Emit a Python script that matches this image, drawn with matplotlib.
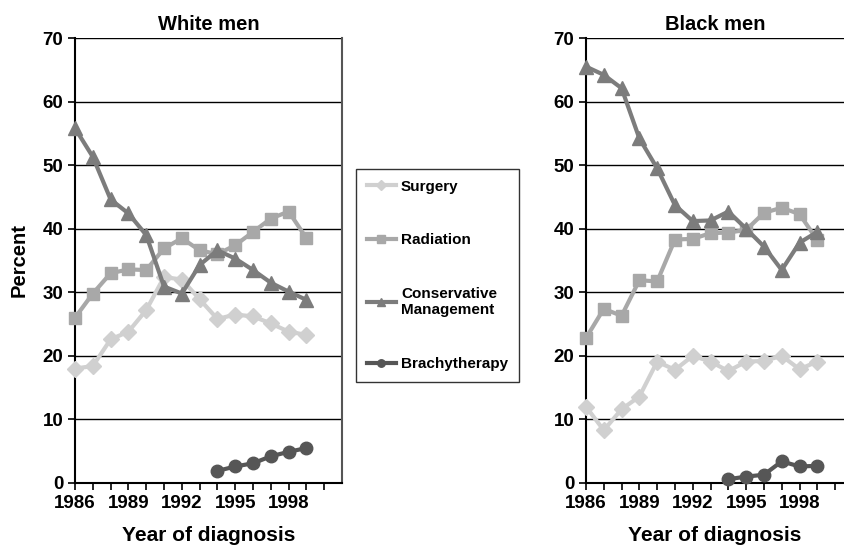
import numpy as np
import matplotlib
matplotlib.use("Agg")
import matplotlib.pyplot as plt
from matplotlib.ticker import MultipleLocator

plt.rcParams['font.family'] = ['Liberation Sans', 'DejaVu Sans']
plt.rcParams['font.weight'] = 'bold'

years = np.arange(1986, 2000)
brachy_years = np.arange(1994, 2000)

# White men
white_surgery = [18.0, 18.4, 22.6, 23.8, 27.2, 32.4, 32.0, 28.9, 25.8, 26.5, 26.2, 25.1, 23.8, 23.3]
white_radiation = [26.0, 29.8, 33.0, 33.6, 33.5, 36.9, 38.5, 36.6, 36.0, 37.4, 39.5, 41.6, 42.7, 38.5]
white_conservative = [55.8, 51.3, 44.6, 42.4, 39.0, 30.9, 29.8, 34.3, 36.6, 35.3, 33.5, 31.5, 30.1, 28.8]
white_brachy = [1.9, 2.6, 3.1, 4.2, 4.9, 5.5]

# Black men
black_surgery = [12.0, 8.3, 11.6, 13.6, 19.1, 17.8, 20.0, 19.1, 17.6, 19.1, 19.2, 20.0, 17.9, 19.1]
black_radiation = [22.8, 27.4, 26.3, 31.9, 31.7, 38.3, 38.4, 39.3, 39.4, 39.8, 42.5, 43.3, 42.3, 38.2]
black_conservative = [65.5, 64.2, 62.1, 54.2, 49.5, 43.7, 41.2, 41.3, 42.7, 40.0, 37.2, 33.5, 37.8, 39.5]
black_brachy = [0.6, 1.0, 1.3, 3.4, 2.6, 2.7]

labels = ["Surgery", "Radiation", "Conservative\nManagement", "Brachytherapy"]
colors = ["#d0d0d0", "#a8a8a8", "#7c7c7c", "#565656"]
markers = ["D", "s", "^", "o"]
msizes = [8, 9, 10, 9]

fig = plt.figure(figsize=(8.44, 5.46), dpi=100)
ax1 = fig.add_axes([0.0889, 0.1154, 0.3164, 0.815])
ax2 = fig.add_axes([0.6943, 0.1154, 0.3057, 0.815])


def draw(ax, series, title, xmax):
    for i, vals in enumerate(series):
        xs = brachy_years if i == 3 else years
        ax.plot(xs, vals, color=colors[i], marker=markers[i], markersize=msizes[i],
                lw=3, label=labels[i], clip_on=False, zorder=3)
    ax.set_xlim(1986, xmax)
    ax.set_ylim(0, 70)
    ax.yaxis.set_major_locator(MultipleLocator(10))
    ax.set_xticks(np.arange(1986, 2001))
    ax.set_xticklabels([str(y) if (y - 1986) % 3 == 0 and y < 2000 else "" for y in range(1986, 2001)])
    ax.grid(axis='y', color='black', lw=1.0)
    ax.set_axisbelow(True)
    ax.tick_params(axis='both', labelsize=13.5, width=1.2, length=5, direction='out', colors='black')
    for lab in ax.get_xticklabels() + ax.get_yticklabels():
        lab.set_fontweight('bold')
    ax.spines['top'].set_visible(False)
    ax.spines['left'].set_linewidth(1.5)
    ax.spines['bottom'].set_linewidth(1.5)
    ax.set_title(title, fontsize=14.5, fontweight='bold', pad=6)
    ax.set_xlabel("Year of diagnosis", fontsize=15, fontweight='bold', labelpad=10)


draw(ax1, [white_surgery, white_radiation, white_conservative, white_brachy], "White men", 2001)
draw(ax2, [black_surgery, black_radiation, black_conservative, black_brachy], "Black men", 2000.5)
ax1.spines['right'].set_color('#555555')
ax1.spines['right'].set_linewidth(1.5)
ax2.spines['right'].set_visible(False)
ax1.set_ylabel("Percent", fontsize=14.5, fontweight='bold', labelpad=10)

handles, labs = ax1.get_legend_handles_labels()
leg = fig.legend(handles, labs, loc='upper left', bbox_to_anchor=(356 / 844, 1 - 169 / 546),
                 frameon=True, fancybox=False, edgecolor='black', fontsize=11,
                 labelspacing=2.6, handlelength=1.9, handletextpad=0.35,
                 borderpad=0.7, borderaxespad=0, markerscale=0.6)
leg.get_frame().set_linewidth(1.0)
for t in leg.get_texts():
    t.set_fontweight('bold')

fig.savefig("out.png", dpi=100)
